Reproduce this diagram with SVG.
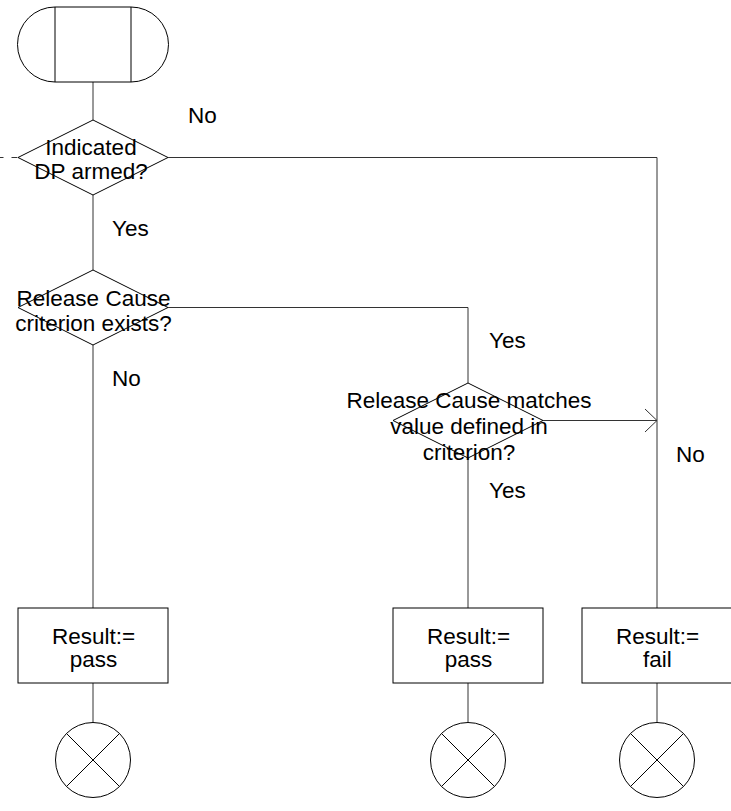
<svg xmlns="http://www.w3.org/2000/svg" width="731" height="811" viewBox="0 0 731 811">
<style>
.s{fill:#fff;stroke:#000;stroke-width:1}
.c{fill:none;stroke:#333;stroke-width:1}
.t{font-family:"Liberation Sans",Arial,sans-serif;font-size:22.5px;fill:#000;text-anchor:middle}
.l{font-family:"Liberation Sans",Arial,sans-serif;font-size:22.5px;fill:#000}
</style>
<g id="connectors">
<line class="c" x1="93" y1="82" x2="93" y2="120"/>
<line class="c" x1="17.5" y1="157.5" x2="0" y2="157.5" stroke-dasharray="6,8"/>
<polyline class="c" points="168,157.5 657,157.5 657,608"/>
<line class="c" x1="93" y1="195" x2="93" y2="270"/>
<polyline class="c" points="168,307.5 468,307.5 468,383"/>
<line class="c" x1="93" y1="345" x2="93" y2="608"/>
<line class="c" x1="543" y1="420.5" x2="657" y2="420.5"/>
<polyline class="c" points="645,409 657,420.5 645,432"/>
<line class="c" x1="468" y1="458" x2="468" y2="608"/>
<line class="c" x1="93" y1="683" x2="93" y2="722.5"/>
<line class="c" x1="468" y1="683" x2="468" y2="722.5"/>
<line class="c" x1="657" y1="683" x2="657" y2="722.5"/>
<text class="l" x="188" y="123">No</text>
<text class="l" x="112" y="236">Yes</text>
<text class="l" x="112" y="386">No</text>
<text class="l" x="489" y="348">Yes</text>
<text class="l" x="489" y="498">Yes</text>
<text class="l" x="676" y="462">No</text>
</g>
<g id="start">
<path class="s" d="M55,7 L131,7 A37.5,37.5 0 0 1 131,82 L55,82 A37.5,37.5 0 0 1 55,7 Z"/>
<line class="s" x1="55" y1="7" x2="55" y2="82"/>
<line class="s" x1="131" y1="7" x2="131" y2="82"/>
</g>
<g id="d1">
<polygon class="s" points="93,120 168,157.5 93,195 18,157.5"/>
<text class="t" x="91" y="155">Indicated</text>
<text class="t" x="91" y="179">DP armed?</text>
</g>
<g id="d2">
<polygon class="s" points="93,270 168,307.5 93,345 18,307.5"/>
<text class="t" x="93.5" y="305.5">Release Cause</text>
<text class="t" x="93.5" y="330.5">criterion exists?</text>
</g>
<g id="d3">
<polygon class="s" points="468,383 543,420.5 468,458 393,420.5"/>
<text class="t" x="469" y="408">Release Cause matches</text>
<text class="t" x="469" y="434">value defined in</text>
<text class="t" x="469" y="460">criterion?</text>
</g>
<g id="r1">
<rect class="s" x="18" y="608" width="150" height="75"/>
<text class="t" x="93.5" y="644">Result:=</text>
<text class="t" x="93.5" y="667">pass</text>
</g>
<g id="r2">
<rect class="s" x="393" y="608" width="150" height="75"/>
<text class="t" x="468.5" y="644">Result:=</text>
<text class="t" x="468.5" y="667">pass</text>
</g>
<g id="r3">
<rect class="s" x="582" y="608" width="150" height="75"/>
<text class="t" x="657.5" y="644">Result:=</text>
<text class="t" x="657.5" y="667">fail</text>
</g>
<g id="e1">
<circle class="s" cx="93" cy="760" r="37.5"/>
<path class="s" d="M66.5,733.5 L119.5,786.5 M119.5,733.5 L66.5,786.5"/>
</g>
<g id="e2">
<circle class="s" cx="468" cy="760" r="37.5"/>
<path class="s" d="M441.5,733.5 L494.5,786.5 M494.5,733.5 L441.5,786.5"/>
</g>
<g id="e3">
<circle class="s" cx="657" cy="760" r="37.5"/>
<path class="s" d="M630.5,733.5 L683.5,786.5 M683.5,733.5 L630.5,786.5"/>
</g>
</svg>
